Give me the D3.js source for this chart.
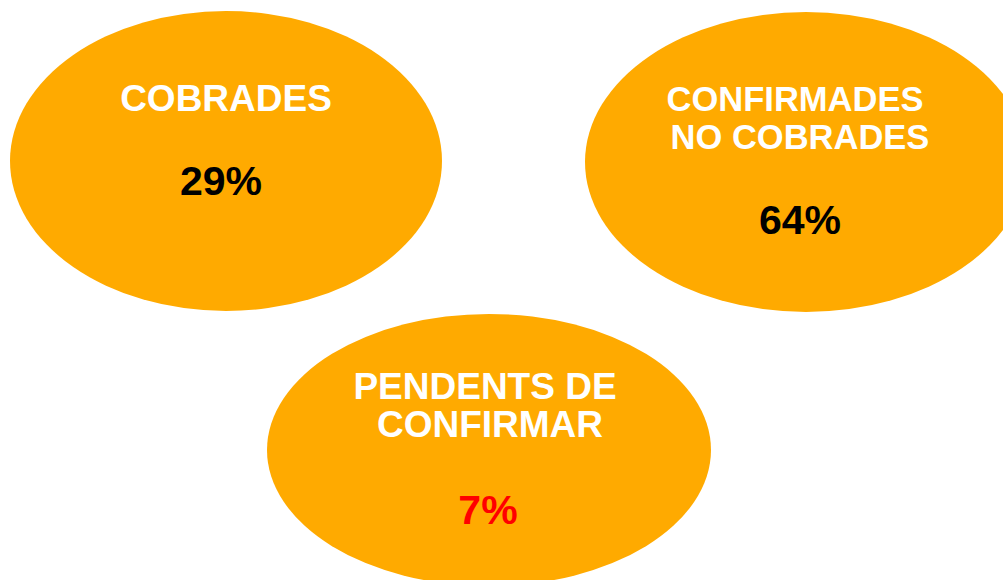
<!DOCTYPE html>
<html>
<head>
<meta charset="utf-8">
<script src="https://cdn.jsdelivr.net/npm/d3@7"></script>
<style>
  html, body { margin: 0; padding: 0; background: #fff; }
  svg { display: block; }
</style>
</head>
<body>
<div id="chart"></div>
<script>
// data
var categories = ["COBRADES", "CONFIRMADES NO COBRADES", "PENDENTS DE CONFIRMAR"];
var labelLines = [["COBRADES"], ["CONFIRMADES", "NO COBRADES"], ["PENDENTS DE", "CONFIRMAR"]];
var percents = [29, 64, 7];

const width = 1003, height = 580;

// where each bubble sits
var layout = [
  {cx: 226, cy: 161, rx: 216, ry: 150, lineX: [226], labelY: 111, valueX: 221, valueY: 195, size: 37},
  {cx: 806, cy: 162, rx: 221, ry: 150, lineX: [795, 800], labelY: 111, valueX: 800, valueY: 234, size: 34.5},
  {cx: 489, cy: 450, rx: 222, ry: 136, lineX: [485, 490], labelY: 399, valueX: 488, valueY: 524, size: 37}
];

var valueColor = d3.scaleOrdinal()
  .domain(categories)
  .range(["#000000", "#000000", "#ff0000"]);

var svg = d3.select("#chart").append("svg")
  .attr("width", width)
  .attr("height", height);

var bubbles = categories.map(function(c, i) {
  return {cat: c, lines: labelLines[i], pct: percents[i], pos: layout[i]};
});

var g = svg.selectAll(".bubble")
  .data(bubbles)
  .enter().append("g")
  .attr("class", "bubble");

g.append("ellipse")
  .attr("cx", function(d) { return d.pos.cx; })
  .attr("cy", function(d) { return d.pos.cy; })
  .attr("rx", function(d) { return d.pos.rx; })
  .attr("ry", function(d) { return d.pos.ry; })
  .attr("fill", "#ffaa00");

g.append("text")
  .attr("text-anchor", "middle")
  .attr("font-family", "'Liberation Sans', Arial, sans-serif")
  .attr("font-weight", "bold")
  .attr("font-size", function(d) { return d.pos.size; })
  .attr("fill", "#ffffff")
  .each(function(d) {
    var t = d3.select(this);
    d.lines.forEach(function(line, k) {
      t.append("tspan")
        .attr("x", d.pos.lineX[k])
        .attr("y", d.pos.labelY + k * 37.5)
        .text(line);
    });
  });

g.append("text")
  .attr("x", function(d) { return d.pos.valueX; })
  .attr("y", function(d) { return d.pos.valueY; })
  .attr("text-anchor", "middle")
  .attr("font-family", "'Liberation Sans', Arial, sans-serif")
  .attr("font-weight", "bold")
  .attr("font-size", 41)
  .attr("fill", function(d) { return valueColor(d.cat); })
  .text(function(d) { return d.pct + "%"; });
</script>
</body>
</html>
